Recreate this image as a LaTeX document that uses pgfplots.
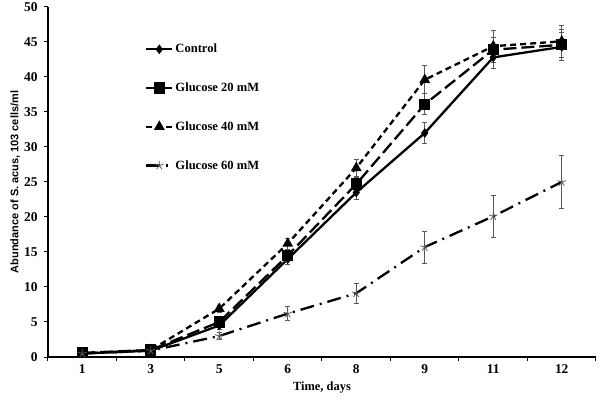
\documentclass[border=0pt]{standalone}
\usepackage{fontspec}
\setmainfont{Liberation Serif}
\newfontfamily\arialfont{Liberation Sans}
\usepackage{pgfplots}
\pgfplotsset{compat=1.18}
\begin{document}
\begin{tikzpicture}
\useasboundingbox (-48bp,-46bp) rectangle (552bp,357bp);
\begin{axis}[
  at={(0,0)}, anchor=south west,
  scale only axis=true,
  width=548bp, height=350bp,
  xmin=-0.5, xmax=7.5, ymin=0, ymax=50,
  axis lines*=left,
  axis line style={line width=1.3bp, -},
  xtick={0,...,7},
  xticklabels={1,3,5,6,8,9,11,12},
  minor xtick={-0.5,0.5,...,7.5},
  ytick={0,5,...,50},
  tick align=outside,
  major x tick style={draw=none},
  minor x tick style={line width=1bp, black},
  major y tick style={line width=1bp, black},
  minor tick length=4bp,
  major tick length=4bp,
  /pgf/number format/assume math mode=true,
  tick label style={font=\fontsize{13.5}{15}\selectfont\bfseries},
  xticklabel style={yshift=0bp},
  yticklabel style={xshift=-3bp},
  xlabel={Time, days},
  xlabel style={font=\fontsize{12.5}{14}\selectfont\bfseries, at={(axis description cs:0.5,0)}, anchor=north, yshift=-21bp},
  ylabel={Abundance of S. acus, 103 cells/ml},
  ylabel style={font=\arialfont\fontsize{11}{13}\selectfont\bfseries, yshift=-3bp},
  legend style={draw=none, fill=none, at={(0.177,0.90)}, anchor=north west,
    font=\fontsize{12.6}{14}\selectfont\bfseries, row sep=24.5bp, inner sep=0pt,
    nodes={inner sep=2bp}},
  legend cell align=left,
  legend image code/.code={\draw[mark repeat=2,mark phase=2,#1] plot coordinates {(0bp,0bp)(13bp,0bp)(26bp,0bp)};},
  error bars/y dir=both, error bars/y explicit,
  error bars/error bar style={gray!70!black, line width=0.8bp, solid},
  error bars/error mark options={rotate=90, mark size=2.5bp, gray!70!black, line width=0.8bp},
  every axis plot/.append style={line width=2.3bp, black},
]
% Control
\addplot[solid, mark=diamond*, mark size=3bp, mark options={solid}]
 coordinates {(0,0.5)+-(0,0.1) (1,0.9)+-(0,0.1) (2,4.5)+-(0,0.5) (3,14)+-(0,0.8) (4,23.5)+-(0,1.0) (5,32)+-(0,1.5) (6,42.8)+-(0,1.6) (7,44.3)+-(0,2.0)};
\addlegendentry{Control}
% Glucose 20
\addplot[dash pattern=on 13bp off 5bp, mark=square*, mark size=4.5bp, mark options={solid}]
 coordinates {(0,0.6)+-(0,0.1) (1,1.0)+-(0,0.1) (2,5)+-(0,0.5) (3,14.5)+-(0,0.8) (4,24.7)+-(0,1.0) (5,36.1)+-(0,1.5) (6,43.9)+-(0,1.8) (7,44.6)+-(0,2.2)};
\addlegendentry{Glucose 20 mM}
% Glucose 40
\addplot[dash pattern=on 6bp off 4bp, mark=triangle*, mark size=4bp, mark options={solid}]
 coordinates {(0,0.5)+-(0,0.1) (1,1.0)+-(0,0.1) (2,6.9)+-(0,0.5) (3,16.2)+-(0,0.8) (4,27)+-(0,1.2) (5,39.6)+-(0,2.0) (6,44.4)+-(0,2.3) (7,45.1)+-(0,2.3)};
\addlegendentry{Glucose 40 mM}
% Glucose 60
\addplot[dash pattern=on 14bp off 6bp on 2bp off 6bp, mark=star, mark size=4.5bp, mark options={solid, gray!70!black, line width=0.8bp}]
 coordinates {(0,0.5)+-(0,0.1) (1,0.9)+-(0,0.1) (2,3.0)+-(0,0.5) (3,6.2)+-(0,1.0) (4,9.1)+-(0,1.4) (5,15.7)+-(0,2.3) (6,20.1)+-(0,3.0) (7,25)+-(0,3.8)};
\addlegendentry{Glucose 60 mM}
\end{axis}
\end{tikzpicture}
\end{document}
